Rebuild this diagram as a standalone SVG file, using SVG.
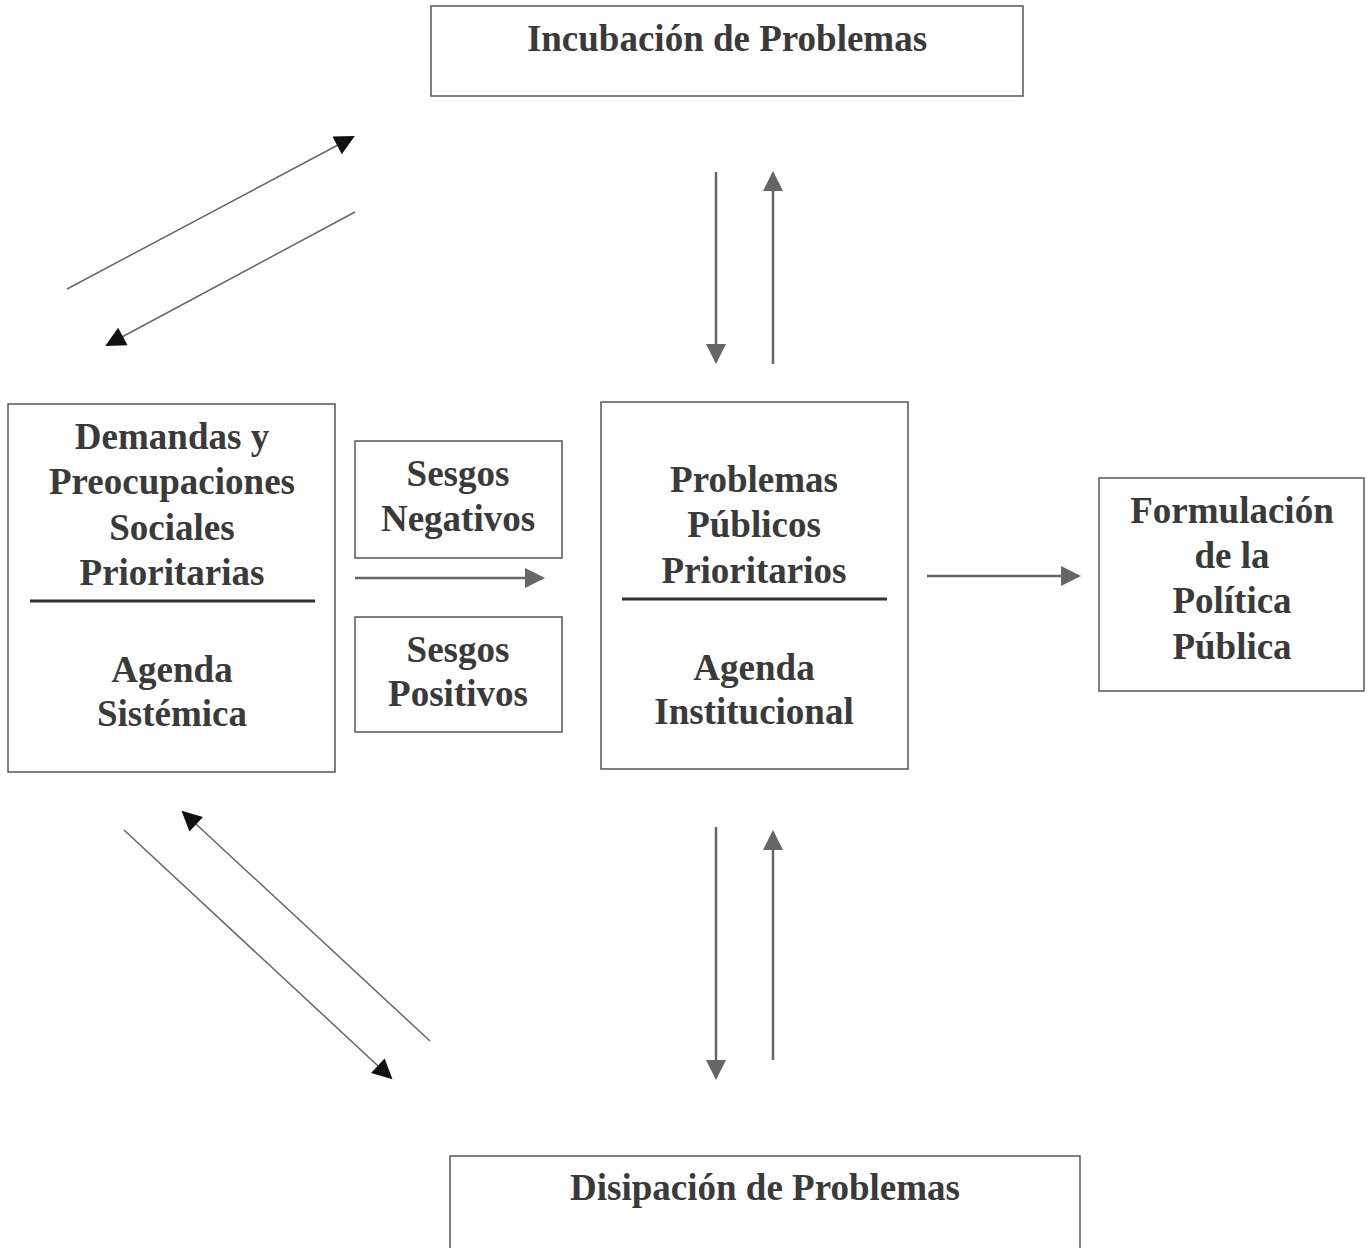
<svg xmlns="http://www.w3.org/2000/svg" width="1370" height="1248" viewBox="0 0 1370 1248">
<style>
.box{fill:#fff;stroke:#555;stroke-width:1.5}
.t{font-family:"Liberation Serif","Times New Roman",serif;font-weight:bold;font-size:37px;fill:#3a3a3a;text-anchor:middle}
.div{stroke:#333;stroke-width:3}
.c{stroke:#666;fill:none}
.thin{stroke-width:1.5}
.thick{stroke-width:2.5}
</style>
<defs>
<marker id="hb" viewBox="0 0 10 10" refX="9" refY="5" markerWidth="22" markerHeight="20" markerUnits="userSpaceOnUse" orient="auto"><path d="M0,0 L10,5 L0,10 Z" fill="#111"/></marker>
<marker id="hg" viewBox="0 0 10 10" refX="9" refY="5" markerWidth="20" markerHeight="20" markerUnits="userSpaceOnUse" orient="auto"><path d="M0,0 L10,5 L0,10 Z" fill="#666"/></marker>
</defs>
<rect width="1370" height="1248" fill="#fff"/>
<g id="incubacion"><rect class="box" x="431" y="6" width="592" height="90"/><text class="t" x="727" y="51">Incubación de Problemas</text></g>
<g id="demandas"><rect class="box" x="8" y="404" width="327" height="368"/>
<text class="t" x="172" y="449">Demandas y</text><text class="t" x="172" y="494">Preocupaciones</text><text class="t" x="172" y="540">Sociales</text><text class="t" x="172" y="585">Prioritarias</text>
<line class="div" x1="30" y1="601" x2="315" y2="601"/>
<text class="t" x="172" y="682">Agenda</text><text class="t" x="172" y="726">Sistémica</text></g>
<g id="sesgos-neg"><rect class="box" x="355" y="441" width="207" height="117"/><text class="t" x="458" y="486">Sesgos</text><text class="t" x="458" y="531">Negativos</text></g>
<g id="sesgos-pos"><rect class="box" x="355" y="617" width="207" height="115"/><text class="t" x="458" y="662">Sesgos</text><text class="t" x="458" y="706">Positivos</text></g>
<g id="problemas"><rect class="box" x="601" y="402" width="307" height="367"/>
<text class="t" x="754" y="492">Problemas</text><text class="t" x="754" y="537">Públicos</text><text class="t" x="754" y="583">Prioritarios</text>
<line class="div" x1="622" y1="599" x2="887" y2="599"/>
<text class="t" x="754" y="680">Agenda</text><text class="t" x="754" y="724">Institucional</text></g>
<g id="formulacion"><rect class="box" x="1099" y="478" width="265" height="213"/>
<text class="t" x="1232" y="523">Formulación</text><text class="t" x="1232" y="568">de la</text><text class="t" x="1232" y="613">Política</text><text class="t" x="1232" y="659">Pública</text></g>
<g id="disipacion"><rect class="box" x="450" y="1156" width="630" height="100"/><text class="t" x="765" y="1200">Disipación de Problemas</text></g>
<g id="connectors">
<line class="c thin" x1="67" y1="289" x2="353" y2="137" marker-end="url(#hb)"/>
<line class="c thin" x1="355" y1="212" x2="107" y2="345" marker-end="url(#hb)"/>
<line class="c thick" x1="716" y1="172" x2="716" y2="362" marker-end="url(#hg)"/>
<line class="c thick" x1="773" y1="364" x2="773" y2="173" marker-end="url(#hg)"/>
<line class="c thick" x1="355" y1="578" x2="543" y2="578" marker-end="url(#hg)"/>
<line class="c thick" x1="927" y1="576" x2="1079" y2="576" marker-end="url(#hg)"/>
<line class="c thick" x1="716" y1="827" x2="716" y2="1078" marker-end="url(#hg)"/>
<line class="c thick" x1="773" y1="1060" x2="773" y2="832" marker-end="url(#hg)"/>
<line class="c thin" x1="124" y1="830" x2="391" y2="1078" marker-end="url(#hb)"/>
<line class="c thin" x1="430" y1="1041" x2="183" y2="812" marker-end="url(#hb)"/>
</g>
</svg>
